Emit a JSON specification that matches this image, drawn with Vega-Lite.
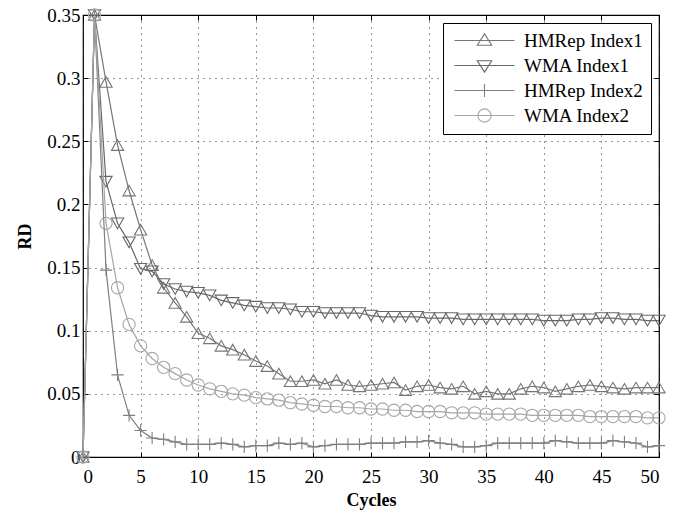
{
  "$schema": "https://vega.github.io/schema/vega-lite/v6.json",
  "width": 576,
  "height": 442,
  "autosize": "none",
  "padding": {"left": 83, "top": 15, "right": 28, "bottom": 58},
  "background": "white",
  "config": {
    "font": "Liberation Serif, Times New Roman, serif",
    "view": {"stroke": "black", "strokeWidth": 1.2},
    "axis": {
      "domain": false,
      "labelFont": "Liberation Serif, Times New Roman, serif",
      "labelFontSize": 19,
      "labelColor": "black",
      "tickColor": "black",
      "tickSize": -5,
      "tickWidth": 1,
      "gridColor": "black",
      "gridDash": [1, 5],
      "gridOpacity": 0.8,
      "gridWidth": 1,
      "titleFont": "Liberation Serif, Times New Roman, serif",
      "titleFontSize": 18,
      "titleFontWeight": "bold",
      "titleColor": "black"
    }
  },
  "data": {
    "values": [
      {"x":0,"s":"HMRep Index1","y":0},{"x":1,"s":"HMRep Index1","y":0.35},{"x":2,"s":"HMRep Index1","y":0.297},{"x":3,"s":"HMRep Index1","y":0.247},{"x":4,"s":"HMRep Index1","y":0.211},{"x":5,"s":"HMRep Index1","y":0.18},{"x":6,"s":"HMRep Index1","y":0.152},{"x":7,"s":"HMRep Index1","y":0.134},{"x":8,"s":"HMRep Index1","y":0.122},{"x":9,"s":"HMRep Index1","y":0.111},{"x":10,"s":"HMRep Index1","y":0.098},{"x":11,"s":"HMRep Index1","y":0.094},{"x":12,"s":"HMRep Index1","y":0.088},{"x":13,"s":"HMRep Index1","y":0.085},{"x":14,"s":"HMRep Index1","y":0.081},{"x":15,"s":"HMRep Index1","y":0.076},{"x":16,"s":"HMRep Index1","y":0.072},{"x":17,"s":"HMRep Index1","y":0.066},{"x":18,"s":"HMRep Index1","y":0.06},{"x":19,"s":"HMRep Index1","y":0.06},{"x":20,"s":"HMRep Index1","y":0.061},{"x":21,"s":"HMRep Index1","y":0.058},{"x":22,"s":"HMRep Index1","y":0.061},{"x":23,"s":"HMRep Index1","y":0.057},{"x":24,"s":"HMRep Index1","y":0.056},{"x":25,"s":"HMRep Index1","y":0.057},{"x":26,"s":"HMRep Index1","y":0.058},{"x":27,"s":"HMRep Index1","y":0.059},{"x":28,"s":"HMRep Index1","y":0.053},{"x":29,"s":"HMRep Index1","y":0.056},{"x":30,"s":"HMRep Index1","y":0.057},{"x":31,"s":"HMRep Index1","y":0.055},{"x":32,"s":"HMRep Index1","y":0.054},{"x":33,"s":"HMRep Index1","y":0.056},{"x":34,"s":"HMRep Index1","y":0.05},{"x":35,"s":"HMRep Index1","y":0.052},{"x":36,"s":"HMRep Index1","y":0.05},{"x":37,"s":"HMRep Index1","y":0.05},{"x":38,"s":"HMRep Index1","y":0.054},{"x":39,"s":"HMRep Index1","y":0.056},{"x":40,"s":"HMRep Index1","y":0.055},{"x":41,"s":"HMRep Index1","y":0.052},{"x":42,"s":"HMRep Index1","y":0.054},{"x":43,"s":"HMRep Index1","y":0.056},{"x":44,"s":"HMRep Index1","y":0.057},{"x":45,"s":"HMRep Index1","y":0.056},{"x":46,"s":"HMRep Index1","y":0.055},{"x":47,"s":"HMRep Index1","y":0.054},{"x":48,"s":"HMRep Index1","y":0.055},{"x":49,"s":"HMRep Index1","y":0.055},{"x":50,"s":"HMRep Index1","y":0.055},
      {"x":0,"s":"WMA Index1","y":0},{"x":1,"s":"WMA Index1","y":0.35},{"x":2,"s":"WMA Index1","y":0.218},{"x":3,"s":"WMA Index1","y":0.185},{"x":4,"s":"WMA Index1","y":0.17},{"x":5,"s":"WMA Index1","y":0.149},{"x":6,"s":"WMA Index1","y":0.147},{"x":7,"s":"WMA Index1","y":0.137},{"x":8,"s":"WMA Index1","y":0.133},{"x":9,"s":"WMA Index1","y":0.131},{"x":10,"s":"WMA Index1","y":0.13},{"x":11,"s":"WMA Index1","y":0.128},{"x":12,"s":"WMA Index1","y":0.124},{"x":13,"s":"WMA Index1","y":0.122},{"x":14,"s":"WMA Index1","y":0.12},{"x":15,"s":"WMA Index1","y":0.119},{"x":16,"s":"WMA Index1","y":0.118},{"x":17,"s":"WMA Index1","y":0.118},{"x":18,"s":"WMA Index1","y":0.117},{"x":19,"s":"WMA Index1","y":0.115},{"x":20,"s":"WMA Index1","y":0.115},{"x":21,"s":"WMA Index1","y":0.114},{"x":22,"s":"WMA Index1","y":0.114},{"x":23,"s":"WMA Index1","y":0.114},{"x":24,"s":"WMA Index1","y":0.114},{"x":25,"s":"WMA Index1","y":0.112},{"x":26,"s":"WMA Index1","y":0.111},{"x":27,"s":"WMA Index1","y":0.111},{"x":28,"s":"WMA Index1","y":0.111},{"x":29,"s":"WMA Index1","y":0.111},{"x":30,"s":"WMA Index1","y":0.11},{"x":31,"s":"WMA Index1","y":0.11},{"x":32,"s":"WMA Index1","y":0.11},{"x":33,"s":"WMA Index1","y":0.109},{"x":34,"s":"WMA Index1","y":0.109},{"x":35,"s":"WMA Index1","y":0.109},{"x":36,"s":"WMA Index1","y":0.109},{"x":37,"s":"WMA Index1","y":0.109},{"x":38,"s":"WMA Index1","y":0.109},{"x":39,"s":"WMA Index1","y":0.109},{"x":40,"s":"WMA Index1","y":0.108},{"x":41,"s":"WMA Index1","y":0.108},{"x":42,"s":"WMA Index1","y":0.108},{"x":43,"s":"WMA Index1","y":0.109},{"x":44,"s":"WMA Index1","y":0.109},{"x":45,"s":"WMA Index1","y":0.11},{"x":46,"s":"WMA Index1","y":0.11},{"x":47,"s":"WMA Index1","y":0.109},{"x":48,"s":"WMA Index1","y":0.109},{"x":49,"s":"WMA Index1","y":0.108},{"x":50,"s":"WMA Index1","y":0.108},
      {"x":0,"s":"HMRep Index2","y":0},{"x":1,"s":"HMRep Index2","y":0.35},{"x":2,"s":"HMRep Index2","y":0.148},{"x":3,"s":"HMRep Index2","y":0.065},{"x":4,"s":"HMRep Index2","y":0.033},{"x":5,"s":"HMRep Index2","y":0.021},{"x":6,"s":"HMRep Index2","y":0.015},{"x":7,"s":"HMRep Index2","y":0.014},{"x":8,"s":"HMRep Index2","y":0.012},{"x":9,"s":"HMRep Index2","y":0.01},{"x":10,"s":"HMRep Index2","y":0.01},{"x":11,"s":"HMRep Index2","y":0.01},{"x":12,"s":"HMRep Index2","y":0.011},{"x":13,"s":"HMRep Index2","y":0.01},{"x":14,"s":"HMRep Index2","y":0.008},{"x":15,"s":"HMRep Index2","y":0.009},{"x":16,"s":"HMRep Index2","y":0.009},{"x":17,"s":"HMRep Index2","y":0.011},{"x":18,"s":"HMRep Index2","y":0.01},{"x":19,"s":"HMRep Index2","y":0.011},{"x":20,"s":"HMRep Index2","y":0.008},{"x":21,"s":"HMRep Index2","y":0.009},{"x":22,"s":"HMRep Index2","y":0.01},{"x":23,"s":"HMRep Index2","y":0.01},{"x":24,"s":"HMRep Index2","y":0.01},{"x":25,"s":"HMRep Index2","y":0.011},{"x":26,"s":"HMRep Index2","y":0.011},{"x":27,"s":"HMRep Index2","y":0.011},{"x":28,"s":"HMRep Index2","y":0.012},{"x":29,"s":"HMRep Index2","y":0.012},{"x":30,"s":"HMRep Index2","y":0.013},{"x":31,"s":"HMRep Index2","y":0.011},{"x":32,"s":"HMRep Index2","y":0.01},{"x":33,"s":"HMRep Index2","y":0.008},{"x":34,"s":"HMRep Index2","y":0.008},{"x":35,"s":"HMRep Index2","y":0.009},{"x":36,"s":"HMRep Index2","y":0.011},{"x":37,"s":"HMRep Index2","y":0.011},{"x":38,"s":"HMRep Index2","y":0.011},{"x":39,"s":"HMRep Index2","y":0.011},{"x":40,"s":"HMRep Index2","y":0.011},{"x":41,"s":"HMRep Index2","y":0.013},{"x":42,"s":"HMRep Index2","y":0.012},{"x":43,"s":"HMRep Index2","y":0.011},{"x":44,"s":"HMRep Index2","y":0.011},{"x":45,"s":"HMRep Index2","y":0.011},{"x":46,"s":"HMRep Index2","y":0.013},{"x":47,"s":"HMRep Index2","y":0.012},{"x":48,"s":"HMRep Index2","y":0.011},{"x":49,"s":"HMRep Index2","y":0.008},{"x":50,"s":"HMRep Index2","y":0.009},
      {"x":0,"s":"WMA Index2","y":0},{"x":1,"s":"WMA Index2","y":0.35},{"x":2,"s":"WMA Index2","y":0.185},{"x":3,"s":"WMA Index2","y":0.134},{"x":4,"s":"WMA Index2","y":0.105},{"x":5,"s":"WMA Index2","y":0.088},{"x":6,"s":"WMA Index2","y":0.078},{"x":7,"s":"WMA Index2","y":0.071},{"x":8,"s":"WMA Index2","y":0.066},{"x":9,"s":"WMA Index2","y":0.061},{"x":10,"s":"WMA Index2","y":0.057},{"x":11,"s":"WMA Index2","y":0.054},{"x":12,"s":"WMA Index2","y":0.052},{"x":13,"s":"WMA Index2","y":0.05},{"x":14,"s":"WMA Index2","y":0.049},{"x":15,"s":"WMA Index2","y":0.047},{"x":16,"s":"WMA Index2","y":0.046},{"x":17,"s":"WMA Index2","y":0.045},{"x":18,"s":"WMA Index2","y":0.043},{"x":19,"s":"WMA Index2","y":0.042},{"x":20,"s":"WMA Index2","y":0.041},{"x":21,"s":"WMA Index2","y":0.04},{"x":22,"s":"WMA Index2","y":0.04},{"x":23,"s":"WMA Index2","y":0.039},{"x":24,"s":"WMA Index2","y":0.039},{"x":25,"s":"WMA Index2","y":0.038},{"x":26,"s":"WMA Index2","y":0.038},{"x":27,"s":"WMA Index2","y":0.037},{"x":28,"s":"WMA Index2","y":0.037},{"x":29,"s":"WMA Index2","y":0.036},{"x":30,"s":"WMA Index2","y":0.036},{"x":31,"s":"WMA Index2","y":0.036},{"x":32,"s":"WMA Index2","y":0.035},{"x":33,"s":"WMA Index2","y":0.035},{"x":34,"s":"WMA Index2","y":0.035},{"x":35,"s":"WMA Index2","y":0.034},{"x":36,"s":"WMA Index2","y":0.034},{"x":37,"s":"WMA Index2","y":0.034},{"x":38,"s":"WMA Index2","y":0.034},{"x":39,"s":"WMA Index2","y":0.033},{"x":40,"s":"WMA Index2","y":0.033},{"x":41,"s":"WMA Index2","y":0.033},{"x":42,"s":"WMA Index2","y":0.033},{"x":43,"s":"WMA Index2","y":0.033},{"x":44,"s":"WMA Index2","y":0.032},{"x":45,"s":"WMA Index2","y":0.032},{"x":46,"s":"WMA Index2","y":0.032},{"x":47,"s":"WMA Index2","y":0.032},{"x":48,"s":"WMA Index2","y":0.032},{"x":49,"s":"WMA Index2","y":0.031},{"x":50,"s":"WMA Index2","y":0.031}
    ]
  },
  "resolve": {"axis": {"x": "independent", "y": "independent"}},
  "layer": [
    {
      "mark": {"type": "point", "filled": false, "size": 150, "strokeWidth": 1.1, "opacity": 0, "clip": false},
      "encoding": {
        "x": {"field": "x", "type": "quantitative", "scale": {"domain": [0, 50], "nice": false},
              "axis": {"title": "Cycles", "values": [0,5,10,15,20,25,30,35,40,45,50], "titlePadding": 5, "labelPadding": 15}},
        "y": {"field": "y", "type": "quantitative", "scale": {"domain": [0, 0.35], "nice": false},
              "axis": {"title": "RD", "values": [0,0.05,0.1,0.15,0.2,0.25,0.3,0.35], "format": "~g", "titlePadding": 12, "labelPadding": 8, "labelOverlap": false}},
        "color": {"field": "s", "type": "nominal",
                  "scale": {"domain": ["HMRep Index1","WMA Index1","HMRep Index2","WMA Index2"],
                            "range": ["#767676","#686868","#808080","#a6a6a6"]},
                  "legend": {
                    "title": null,
                    "orient": "top-right",
                    "offset": 8,
                    "strokeColor": "black",
                    "fillColor": "white",
                    "padding": 8,
                    "symbolSize": 144,
                    "symbolOpacity": 1,
                    "symbolStrokeWidth": 1.1,
                    "labelFont": "Liberation Serif, Times New Roman, serif",
                    "labelFontSize": 19,
                    "labelColor": "black",
                    "labelOffset": 54,
                    "rowPadding": 5
                  }},
        "shape": {"field": "s", "type": "nominal", "legend": null,
                  "scale": {"domain": ["HMRep Index1","WMA Index1","HMRep Index2","WMA Index2"],
                            "range": ["M-1,0L9,0M4,-1.1L2.8,0.8L5.2,0.8Z",
                                      "M-1,0L9,0M4,1.1L2.8,-0.8L5.2,-0.8Z",
                                      "M-1,0L9,0M4,-1.1L4,1.1",
                                      "M-1,0L9,0M5.1,0A1.1,1.1,0,1,1,2.9,0A1.1,1.1,0,1,1,5.1,0"]}}
      }
    },
    {
      "transform": [{"filter": "datum.s === 'HMRep Index1'"}],
      "mark": {"type": "point", "shape": "triangle-up", "filled": false, "size": 150, "strokeWidth": 1.1, "opacity": 1, "clip": false},
      "encoding": {
        "x": {"field": "x", "type": "quantitative", "axis": null},
        "y": {"field": "y", "type": "quantitative", "axis": null},
        "color": {"field": "s", "type": "nominal"}
      }
    },
    {
      "transform": [{"filter": "datum.s === 'WMA Index1'"}],
      "mark": {"type": "point", "shape": "triangle-down", "filled": false, "size": 150, "strokeWidth": 1.1, "opacity": 1, "clip": false},
      "encoding": {
        "x": {"field": "x", "type": "quantitative", "axis": null},
        "y": {"field": "y", "type": "quantitative", "axis": null},
        "color": {"field": "s", "type": "nominal"}
      }
    },
    {
      "transform": [{"filter": "datum.s === 'HMRep Index2'"}],
      "mark": {"type": "point", "shape": "M-1,0L1,0M0,-1L0,1", "filled": false, "size": 150, "strokeWidth": 1.1, "opacity": 1, "clip": false},
      "encoding": {
        "x": {"field": "x", "type": "quantitative", "axis": null},
        "y": {"field": "y", "type": "quantitative", "axis": null},
        "color": {"field": "s", "type": "nominal"}
      }
    },
    {
      "transform": [{"filter": "datum.s === 'WMA Index2'"}],
      "mark": {"type": "point", "shape": "circle", "filled": false, "size": 150, "strokeWidth": 1.1, "opacity": 1, "clip": false},
      "encoding": {
        "x": {"field": "x", "type": "quantitative", "axis": null},
        "y": {"field": "y", "type": "quantitative", "axis": null},
        "color": {"field": "s", "type": "nominal"}
      }
    },
    {
      "mark": {"type": "line", "strokeWidth": 1.2, "clip": false},
      "encoding": {
        "x": {"field": "x", "type": "quantitative", "axis": {"orient": "top", "labels": false, "title": null, "grid": false, "values": [0,5,10,15,20,25,30,35,40,45,50]}},
        "y": {"field": "y", "type": "quantitative", "axis": {"orient": "right", "labels": false, "title": null, "grid": false, "values": [0,0.05,0.1,0.15,0.2,0.25,0.3,0.35]}},
        "color": {"field": "s", "type": "nominal"},
        "detail": {"field": "s"}
      }
    }
  ]
}
